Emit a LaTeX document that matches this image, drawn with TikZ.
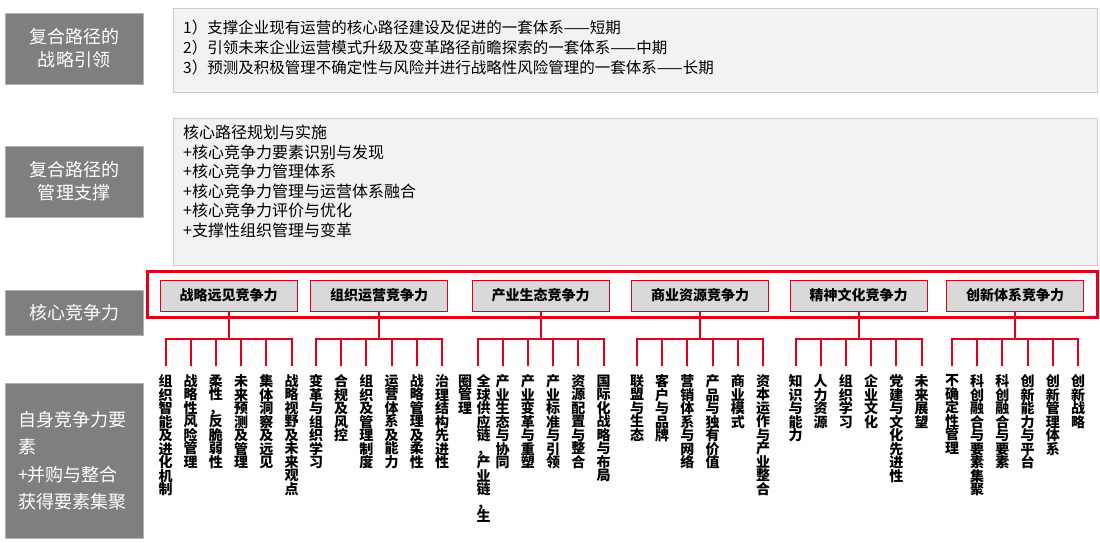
\documentclass[tikz,border=0pt]{standalone}
\usepackage{fontspec}
\setmainfont{Noto Sans CJK SC}
\definecolor{labgray}{HTML}{7F7F7F}
\definecolor{panelfill}{HTML}{F2F2F2}
\definecolor{panelline}{HTML}{CCCCCC}
\definecolor{headfill}{HTML}{D9D9D9}
\definecolor{linkred}{HTML}{E3001B}
\AtBeginDocument{\lineskiplimit=-20pt}
% stack the characters of a text one under another
\ExplSyntaxOn
\NewDocumentCommand \vtxt { m }
  {
    \tl_set:No \l_tmpa_tl {#1}
    \seq_clear:N \l_tmpa_seq
    \tl_map_inline:Nn \l_tmpa_tl { \seq_put_right:Nn \l_tmpa_seq {##1} }
    \seq_use:Nn \l_tmpa_seq { \\ }
  }
\ExplSyntaxOff
\begin{document}
\begin{tikzpicture}[x=1pt, y=-1pt,
    label box/.style={fill=labgray, draw=gray!60, text=white, align=center, inner sep=0pt,
      minimum width=138pt, font=\fontsize{18}{23}\selectfont},
    panel/.style={fill=panelfill, draw=panelline, anchor=north west, inner sep=0pt, outer sep=0pt},
    panel text/.style={anchor=north west, align=left, inner sep=0pt},
    head/.style={fill=headfill, draw=linkred, line width=0.8pt, inner sep=0pt,
      minimum width=137pt, minimum height=31pt, font=\fontsize{14}{16}\selectfont\bfseries},
    leaf/.style={anchor=north, align=center, inner sep=0pt,
      font=\fontsize{14}{13.5}\selectfont\bfseries},
    link/.style={draw=linkred, line width=2pt, shorten >=8pt}]
    \path[fill=white, use as bounding box] (0,0) rectangle (1100,543);
    % row labels
    \node[label box, minimum height=71pt] (guide) at (74,48.5) {复合路径的\\战略引领};
    \node[label box, minimum height=71pt] (support) at (74,181.5) {复合路径的\\管理支撑};
    \node[label box, minimum height=45pt] (core) at (74,312.5) {核心竞争力};
    \node[label box, minimum height=155pt, align=left, text width=112pt,
      font=\fontsize{18}{27.5}\selectfont] (elem) at (74,460.5) {自身竞争力要\\素\\+并购与整合\\获得要素集聚};
    % panels
    \node[panel, minimum width=924pt, minimum height=84pt] (guidepanel) at (173,8) {};
    \node[panel text, font=\fontsize{15.5}{20}\selectfont] (guidetext) at (183,20)
      {1）支撑企业现有运营的核心路径建设及促进的一套体系——短期\\
       2）引领未来企业运营模式升级及变革路径前瞻探索的一套体系——中期\\
       3）预测及积极管理不确定性与风险并进行战略性风险管理的一套体系——长期};
    \node[panel, minimum width=924pt, minimum height=147pt] (supportpanel) at (173,118) {};
    \node[panel text, font=\fontsize{16}{19.5}\selectfont] (supporttext) at (183,125)
      {核心路径规划与实施\\+核心竞争力要素识别与发现\\+核心竞争力管理体系\\
       +核心竞争力管理与运营体系融合\\+核心竞争力评价与优化\\+支撑性组织管理与变革};
    \node[draw=linkred, line width=3pt, anchor=north west, inner sep=0pt, outer sep=0pt,
      minimum width=950pt, minimum height=45.5pt] (frame) at (147,271.5) {};
    % competences
    \foreach \g/\hx/\hname in {1/228.5/战略远见竞争力, 2/379/组织运营竞争力, 3/540.5/产业生态竞争力,
        4/700/商业资源竞争力, 5/858.5/精神文化竞争力, 6/1015/创新体系竞争力}
      \node[head] (h\g) at (\hx,295.5) {\hname};
    % their elements
    \foreach \g/\i/\leaftext in {
        1/0/组织智能及进化机制, 1/1/战略性风险管理, 1/2/柔性，反脆弱性,
        1/3/未来预测及管理, 1/4/集体洞察及远见, 1/5/战略视野及未来观点,
        2/0/变革与组织学习, 2/1/合规及风控, 2/2/组织及管理制度,
        2/3/运营体系及能力, 2/4/战略管理及柔性, 2/5/治理结构先进性,
        3/1/产业生态与协同, 3/2/产业变革与重塑,
        3/3/产业标准与引领, 3/4/资源配置与整合, 3/5/国际化战略与布局,
        4/0/联盟与生态, 4/1/客户与品牌, 4/2/营销体系与网络,
        4/3/产品与独有价值, 4/4/商业模式, 4/5/资本运作与产业整合,
        5/0/知识与能力, 5/1/人力资源, 5/2/组织学习,
        5/3/企业文化, 5/4/党建与文化先进性, 5/5/未来展望,
        6/0/不确定性管理, 6/1/科创融合与要素集聚, 6/2/科创融合与要素,
        6/3/创新能力与平台, 6/4/创新管理体系, 6/5/创新战略} {
      \path (h\g.south) ++({(\i-2.5)*25.2},63) node[leaf] (l\g-\i) {\vtxt{\leaftext}};
      \draw[link] (h\g.south) -- ++(0,28) -| (l\g-\i.north);
    }
    % the one element that runs over into a second column
    \path (h3.south) ++(-57,63) node[leaf] (l3-0) {\vtxt{全球供应链，产业链，生}};
    \draw[link] (h3.south) -- ++(0,28) -| ([xshift=-6pt]l3-0.north);
    \node[leaf, anchor=north east] (l3-0x) at ([xshift=-4pt]l3-0.north west) {\vtxt{圈管理}};
\end{tikzpicture}
\end{document}
